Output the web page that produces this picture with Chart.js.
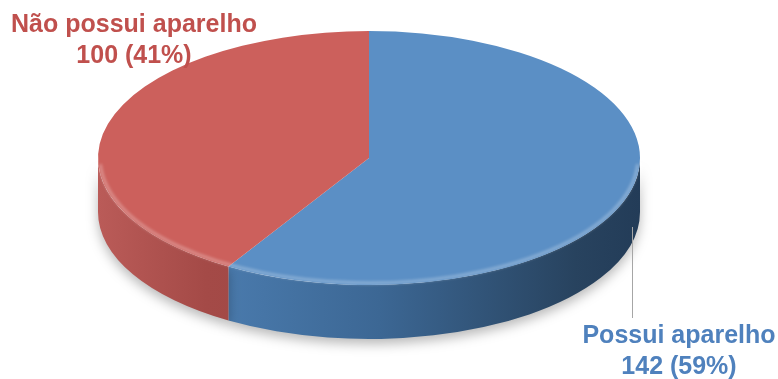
<!DOCTYPE html>
<html>
<head>
<meta charset="utf-8">
<script src="https://cdn.jsdelivr.net/npm/chart.js@4/dist/chart.umd.min.js"></script>
<style>
  html, body { margin: 0; padding: 0; background: #fff; }
  #wrap { width: 778px; height: 379px; }
</style>
</head>
<body>
<div id="wrap"><canvas id="pieChart" width="778" height="379"></canvas></div>
<script>
const labels = ['Possui aparelho', 'Não possui aparelho'];
const counts = [142, 100];
const percents = [59, 41];
const topColors = ['#5B8FC5', '#CC605C'];
const textColors = ['#4F81BD', '#C0504D'];

// fake 3D: squash the disc and draw a rim under its front half
const TILT = 127 / 271;
const DEPTH = 54;
const TOP_Y = 158;

// side wall shading, left to right across the whole disc
const sideStops = [
  [[0, '#5586BA'], [0.2, '#4B7CAF'], [0.52, '#3C6794'], [0.88, '#28435F'], [1, '#233C58']],
  [[0, '#BA5B58'], [0.2, '#A44A47'], [1, '#8E3D3B']],
];

const pie3d = {
  id: 'pie3d',
  beforeDatasetsDraw(chart) {
    const ctx = chart.ctx;
    const arcs = chart.getDatasetMeta(0).data;
    const cx = arcs[0].x;
    const cy = arcs[0].y;
    const r = arcs[0].outerRadius;
    const ry = r * TILT;

    arcs.forEach((arc, i) => {
      // only the part of the slice facing the viewer (0..PI) shows its side
      let a1 = Math.max(arc.startAngle, 0);
      let a2 = Math.min(arc.endAngle, Math.PI);
      if (a2 <= a1) return;
      const grad = ctx.createLinearGradient(cx - r, 0, cx + r, 0);
      sideStops[i].forEach(([p, c]) => grad.addColorStop(p, c));
      ctx.save();
      ctx.beginPath();
      ctx.ellipse(cx, TOP_Y, r, ry, 0, a1, a2);
      ctx.ellipse(cx, TOP_Y + DEPTH, r, ry, 0, a2, a1, true);
      ctx.closePath();
      ctx.shadowColor = 'rgba(0,0,0,0.28)';
      ctx.shadowBlur = 12;
      ctx.shadowOffsetY = 5;
      ctx.fillStyle = grad;
      ctx.fill();
      ctx.restore();
    });

    ctx.save();
    ctx.translate(0, TOP_Y);
    ctx.scale(1, TILT);
    ctx.translate(0, -cy);
  },
  afterDatasetsDraw(chart) {
    const ctx = chart.ctx;
    ctx.restore();

    const arcs = chart.getDatasetMeta(0).data;
    const cx = arcs[0].x;
    const r = arcs[0].outerRadius;
    const ry = r * TILT;

    // soft bevel along the front edge of the top face
    ctx.save();
    ctx.filter = 'blur(1.5px)';
    ctx.strokeStyle = 'rgba(255,255,255,0.3)';
    ctx.lineWidth = 3;
    ctx.beginPath();
    ctx.ellipse(cx, TOP_Y, r - 2, ry - 2, 0, 0.05, Math.PI - 0.05);
    ctx.stroke();
    ctx.restore();

    // leader line to the blue label
    ctx.save();
    ctx.strokeStyle = '#A6A6A6';
    ctx.lineWidth = 1;
    ctx.beginPath();
    ctx.moveTo(632.5, 227);
    ctx.lineTo(632.5, 318);
    ctx.stroke();
    ctx.restore();

    // data labels
    const spots = [
      { x: 679, y: 343 },
      { x: 134, y: 32 },
    ];
    ctx.save();
    ctx.font = 'bold 25px "Liberation Sans", Arial, sans-serif';
    ctx.textAlign = 'center';
    ctx.textBaseline = 'alphabetic';
    labels.forEach((name, i) => {
      ctx.fillStyle = textColors[i];
      ctx.fillText(name, spots[i].x, spots[i].y);
      ctx.fillText(`${counts[i]} (${percents[i]}%)`, spots[i].x, spots[i].y + 31);
    });
    ctx.restore();
  },
};

new Chart(document.getElementById('pieChart'), {
  type: 'pie',
  data: {
    labels: labels,
    datasets: [
      {
        data: counts,
        backgroundColor: topColors,
        borderWidth: 0,
        clip: false,
      },
    ],
  },
  options: {
    responsive: false,
    animation: false,
    events: [],
    radius: 271,
    layout: { padding: { right: 40 } },
    plugins: {
      legend: { display: false },
      tooltip: { enabled: false },
    },
  },
  plugins: [pie3d],
});
</script>
</body>
</html>
